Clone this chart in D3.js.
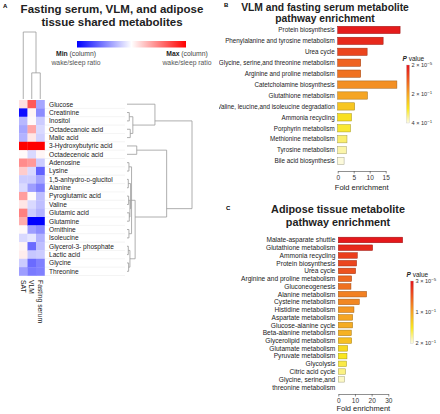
<!DOCTYPE html>
<html><head><meta charset="utf-8">
<script src="https://cdn.jsdelivr.net/npm/d3@7"></script>
<style>body{margin:0;background:#fff}svg{font-family:"Liberation Sans",Arial,Helvetica,sans-serif}</style>
</head><body><svg id="c" width="440" height="414"></svg>
<script>
// ---------- Panel A data ----------
const metabolites = ["Glucose","Creatinine","Inositol","Octadecanoic acid","Malic acid","3-Hydroxybutyric acid","Octadecenoic acid","Adenosine","Lysine","1,5-anhydro-D-glucitol","Alanine","Pyroglutamic acid","Valine","Glutamic acid","Glutamine","Ornithine","Isoleucine","Glycerol-3- phosphate","Lactic acid","Glycine","Threonine"];
const heatColumns = ["SAT","VLM","Fasting serum"];
const satValues   = [0.12,-0.95,-0.28,-0.35,-0.3,1,0.02,0.45,0.2,-0.2,-0.15,0.38,0.1,0.5,0.32,0.02,-0.15,0.04,0.07,-0.2,-0.38];
const vlmValues   = [0.65,0.04,0.02,0.35,0.1,1,-0.15,0.4,-0.15,-0.2,-0.38,0.02,-0.15,-0.2,-1,-0.38,-0.1,-0.58,-0.22,-0.58,-0.52];
const serumValues = [-0.35,-0.45,-0.2,-0.15,-0.18,1,0.04,-0.2,-0.62,-0.35,-0.5,-0.25,-0.25,-0.3,-1,-0.45,-0.3,-0.25,-0.2,-0.5,-0.5];
// dendrograms: [height, children] ; leaves are names
const rowTree = [10, [
  [4.3, ["Glucose", [0.9, [[0.35, ["Creatinine","Inositol"]], [0.5, ["Octadecanoic acid","Malic acid"]]]]]],
  [6.1, [
    [1.5, ["3-Hydroxybutyric acid","Octadecenoic acid"]],
    [1.25, [
      [0.7, [
        [0.3, ["Adenosine","Lysine"]],
        [0.55, [[0.2, ["1,5-anhydro-D-glucitol","Alanine"]], [0.45, [[0.25, ["Pyroglutamic acid","Valine"]], [0.35, ["Glutamic acid","Glutamine"]]]]]],
        [0.3, ["Ornithine","Isoleucine"]]
      ]],
      [0.45, [[0.2, ["Glycerol-3- phosphate","Lactic acid"]], [0.25, ["Glycine","Threonine"]]]]
    ]]
  ]]
]];
const colTree = [10, ["SAT", [3.9, ["VLM","Fasting serum"]]]];

// ---------- Panel B data ----------
const pathwaysB = ["Protein biosynthesis","Phenylalanine and tyrosine metabolism","Urea cycle","Glycine, serine,and threonine metabolism","Arginine and proline metabolism","Catetcholamine biosynthesis","Glutathione metabolism","Valine, leucine,and isoleucine degradation","Ammonia recycling","Porphyrin metabolism","Methionine metabolism","Tyrosine metabolism","Bile acid biosynthesis"];
const foldB = [19.5,14.2,9.2,7.2,7.2,18.5,9.3,5.3,4.3,4.0,2.9,2.7,2.0];
const pB = [0.01,0.03,0.07,0.11,0.13,0.17,0.2,0.25,0.29,0.31,0.34,0.37,0.395];
const ticksB = [0,5,10,15];

// ---------- Panel C data ----------
const pathwaysC = ["Malate-asparate shuttle","Glutathione metabolism","Ammonia recycling","Protein biosynthesis","Urea cycle","Arginine and proline metabolism","Gluconeogenesis","Alanine metabolism","Cysteine metabolism","Histidine metabolism","Aspartate metabolism","Glucose-alanine cycle","Beta-alanine metabolism","Glycerolipid metabolism","Glutamate metabolism","Pyruvate metabolism","Glycolysis","Citric acid cycle","Glycine, serine,and\nthreonine metabolism"];
const foldC = [38.6,20.6,11.4,11.0,10.4,8.0,7.6,17.0,12.6,9.4,8.6,8.6,7.8,8.0,5.6,5.2,5.0,4.4,3.8];
const pC = [0.003,0.015,0.03,0.035,0.045,0.06,0.065,0.075,0.08,0.09,0.1,0.105,0.11,0.12,0.14,0.15,0.16,0.175,0.192];
const ticksC = [0,10,20,30];

const svg = d3.select("#c");
const dendroColor = "#9a9a9a";

// ================= Panel A =================
svg.append("text").attr("x",3).attr("y",8).attr("font-size",6).attr("font-weight","bold").text("A");
const titleA = svg.append("text").attr("text-anchor","middle").attr("font-weight","bold").attr("font-size",11.5).attr("fill","#222");
titleA.append("tspan").attr("x",112).attr("y",13).text("Fasting serum, VLM, and adipose");
titleA.append("tspan").attr("x",112).attr("y",25.5).text("tissue shared metabolites");

// color legend
const heatColor = d3.scaleLinear().domain([-1,0,1]).range(["#0000ff","#ffffff","#ff0000"]);
const defs = svg.append("defs");
const hg = defs.append("linearGradient").attr("id","hg");
[-1,-0.5,0,0.5,1].forEach(v=>hg.append("stop").attr("offset",((v+1)/2*100)+"%").attr("stop-color",heatColor(v)));
const legX = d3.scaleLinear().domain([-1,1]).range([77,186]);
svg.append("rect").attr("x",legX(-1)).attr("y",41).attr("width",legX(1)-legX(-1)).attr("height",6.5).attr("fill","url(#hg)");
const legT = [[legX(-1)-1,"Min"],[legX(1)+1,"Max"]];
legT.forEach(([x,w])=>{
  const t = svg.append("text").attr("x",x).attr("y",56).attr("text-anchor","middle").attr("font-size",6.8).attr("fill","#444");
  t.append("tspan").attr("font-weight","bold").attr("fill","#222").text(w);
  t.append("tspan").text(" (column)");
  svg.append("text").attr("x",x).attr("y",64.5).attr("text-anchor","middle").attr("font-size",6.8).attr("fill","#555").text("wake/sleep ratio");
});

// heatmap
const hx = d3.scaleBand().domain(heatColumns).range([19,44.5]);
const hy = d3.scaleBand().domain(metabolites).range([100,275.5]);
const colVals = {"SAT":satValues,"VLM":vlmValues,"Fasting serum":serumValues};
svg.append("g").selectAll("line").data(metabolites).join("line")
  .attr("x1",44.5).attr("x2",125).attr("y1",d=>hy(d)+hy.bandwidth()).attr("y2",d=>hy(d)+hy.bandwidth())
  .attr("stroke","#ececec").attr("stroke-width",0.6);
heatColumns.forEach(c=>{
  svg.append("g").selectAll("rect").data(metabolites).join("rect")
    .attr("x",hx(c)).attr("y",d=>hy(d)).attr("width",hx.bandwidth()+0.3).attr("height",hy.bandwidth()+0.3)
    .attr("fill",(d,i)=>heatColor(colVals[c][i]));
});
const rowLab = svg.append("g").attr("font-size",6.6).attr("fill","#222");
metabolites.forEach(m=>{
  const t = rowLab.append("text").attr("x",49).attr("y",hy(m)+hy.bandwidth()/2).attr("dy","0.36em");
  if(m.includes("-D-")){
    const [a,b] = m.split("-D-");
    t.append("tspan").text(a+"-");
    t.append("tspan").attr("font-size",5).text("D");
    t.append("tspan").text("-"+b);
  } else t.text(m);
});
heatColumns.forEach(c=>{
  svg.append("text").attr("transform",`translate(${hx(c)+hx.bandwidth()/2},280) rotate(90)`)
    .attr("dy","0.35em").attr("font-size",6.8).attr("fill","#222").text(c);
});

function layout(node, pos, hpos, segs){
  if(typeof node === "string") return {p:pos(node), leaves:[pos(node)], h:hpos(0)};
  const [h, kids] = node;
  const ch = kids.map(k=>layout(k,pos,hpos,segs));
  const leaves = ch.flatMap(c=>c.leaves);
  const p = d3.mean(leaves);
  const hh = hpos(h);
  ch.forEach(c=>segs.push([c.h,c.p,hh,c.p]));
  segs.push([hh,d3.min(ch,c=>c.p),hh,d3.max(ch,c=>c.p)]);
  return {p, leaves, h:hh};
}
const rowSegs = [];
const rowH = d3.scaleLinear().domain([0,10]).range([127,192]);
layout(rowTree, m=>hy(m)+hy.bandwidth()/2, h=>rowH(h), rowSegs);
svg.append("g").selectAll("line").data(rowSegs).join("line")
  .attr("x1",d=>d[0]).attr("y1",d=>d[1]).attr("x2",d=>d[2]).attr("y2",d=>d[3])
  .attr("stroke",dendroColor).attr("stroke-width",0.8);
const colSegs = [];
const colH = d3.scaleLinear().domain([0,10]).range([99,32]);
function layoutCol(node){
  if(typeof node === "string"){const p=hx(node)+hx.bandwidth()/2; return {p, leaves:[p], h:colH(0)};}
  const [h,kids]=node; const ch=kids.map(layoutCol); const leaves=ch.flatMap(c=>c.leaves);
  const hh=colH(h);
  ch.forEach(c=>colSegs.push([c.p,c.h,c.p,hh]));
  colSegs.push([d3.min(ch,c=>c.p),hh,d3.max(ch,c=>c.p),hh]);
  return {p:d3.mean(leaves),leaves,h:hh};
}
layoutCol(colTree);
svg.append("g").selectAll("line").data(colSegs).join("line")
  .attr("x1",d=>d[0]).attr("y1",d=>d[1]).attr("x2",d=>d[2]).attr("y2",d=>d[3])
  .attr("stroke",dendroColor).attr("stroke-width",0.8);

// ================= bar panels =================
function pLabel(g,x,y,a,e){
  const t=g.append("text").attr("x",x).attr("y",y).attr("dy","0.35em").attr("font-size",5.6).attr("fill","#333");
  t.append("tspan").text(a+" \u00d7 10");
  t.append("tspan").attr("dy","-0.45em").attr("font-size",4.4).text("\u2212"+e);
}
function barPanel(cfg){
  const g = svg.append("g");
  g.append("text").attr("x",cfg.letter[0]).attr("y",cfg.letter[1]).attr("font-size",6).attr("font-weight","bold").text(cfg.letterText);
  const tt = g.append("text").attr("text-anchor","middle").attr("font-weight","bold").attr("font-size",cfg.titleSize).attr("fill","#222");
  cfg.title.forEach((s,i)=>tt.append("tspan").attr("x",cfg.titleX).attr("y",cfg.titleY[i]).text(s));
  const y = d3.scaleBand().domain(cfg.cats).range(cfg.yRange).paddingInner(cfg.pad).paddingOuter(cfg.pad/2);
  const x = d3.scaleLinear().domain(cfg.xDomain).range(cfg.xRange);
  const col = d3.scaleLinear().domain(cfg.pDomain).range(["#e4141b","#ee5a1f","#f5a524","#f9e61e","#fcfbe6"]);
  g.append("g").selectAll("rect").data(cfg.cats).join("rect")
    .attr("x",x(0)).attr("y",d=>y(d)).attr("width",(d,i)=>x(cfg.vals[i])-x(0)).attr("height",y.bandwidth())
    .attr("fill",(d,i)=>col(cfg.ps[i])).attr("stroke",(d,i)=>d3.color(col(cfg.ps[i])).darker(1.2)).attr("stroke-width",0.5);
  const lg = g.append("g").attr("font-size",cfg.labelSize).attr("fill","#222").attr("text-anchor","end");
  if(cfg.clip){
    defs.append("clipPath").attr("id",cfg.clip).append("rect").attr("x",219).attr("y",0).attr("width",221).attr("height",414);
    lg.attr("clip-path",`url(#${cfg.clip})`);
  }
  cfg.cats.forEach(c=>{
    const lines=c.split("\n");
    const t=lg.append("text").attr("x",x(0)-3).attr("y",y(c)+y.bandwidth()/2);
    lines.forEach((l,i)=>t.append("tspan").attr("x",x(0)-3).attr("dy",i===0?"0.36em":"1.3em").text(l));
  });
  const ax = g.append("g").attr("transform",`translate(0,${cfg.axisY})`)
    .call(d3.axisBottom(x).tickValues(cfg.ticks).tickSize(2.5).tickSizeOuter(0).tickPadding(2));
  ax.select(".domain").attr("stroke","#444").attr("stroke-width",0.6);
  ax.selectAll(".tick line").attr("stroke","#444").attr("stroke-width",0.6);
  ax.selectAll(".tick text").attr("font-size",6.5).attr("fill","#333").attr("font-family",null);
  g.append("text").attr("x",(cfg.xRange[0]+cfg.xRange[1])/2).attr("y",cfg.axisY+cfg.xTitleOff).attr("text-anchor","middle")
    .attr("font-size",7.5).attr("fill","#222").text("Fold enrichment");
  const lgY = d3.scaleLinear().domain([cfg.pDomain[0], cfg.pDomain[cfg.pDomain.length-1]]).range(cfg.legY);
  const gid = cfg.letterText+"pg";
  const gr = defs.append("linearGradient").attr("id",gid).attr("x1",0).attr("x2",0).attr("y1",0).attr("y2",1);
  cfg.pDomain.forEach(p=>gr.append("stop").attr("offset",((p-cfg.pDomain[0])/(cfg.pDomain[4]-cfg.pDomain[0])*100)+"%").attr("stop-color",col(p)));
  const pt = g.append("text").attr("x",cfg.legX-4).attr("y",cfg.legY[0]-4).attr("font-size",6.5).attr("fill","#222");
  pt.append("tspan").attr("font-style","italic").attr("font-weight","bold").text("P");
  pt.append("tspan").text(" value");
  g.append("rect").attr("x",cfg.legX).attr("y",cfg.legY[0]).attr("width",3).attr("height",cfg.legY[1]-cfg.legY[0])
    .attr("fill",`url(#${gid})`).attr("stroke","#bbb").attr("stroke-width",0.3);
  cfg.legTicks.forEach(([v,a,e])=>pLabel(g,cfg.legX+5,lgY(v),a,e));
}

barPanel({letterText:"B", letter:[224,7], title:["VLM and fasting serum metabolite","pathway enrichment"], titleX:325, titleY:[10.5,21.5],
  titleSize:10.3, cats:pathwaysB, vals:foldB, ps:pB, yRange:[24.5,166.5], pad:0.33, xDomain:[0,15], xRange:[337.7,385.7],
  axisY:171, xTitleOff:19, ticks:ticksB, labelSize:6.3, clip:"clipB",
  pDomain:[0.00002,0.1,0.2,0.3,0.4], legX:406.5, legY:[65,123], legTicks:[[0.00002,"2","5"],[0.2,"2","1"],[0.4,"4","1"]]});
barPanel({letterText:"C", letter:[226,210], title:["Adipose tissue metabolite","pathway enrichment"], titleX:338, titleY:[213,225.5],
  titleSize:10.8, cats:pathwaysC, vals:foldC, ps:pC, yRange:[236.1,383.2], pad:0.28, xDomain:[0,30], xRange:[338.3,388.3],
  axisY:394, xTitleOff:17, ticks:ticksC, labelSize:6.6,
  pDomain:[0.00003,0.05,0.1,0.15,0.2], legX:410.5, legY:[281,343.5], legTicks:[[0.00003,"3","5"],[0.1,"1","1"],[0.2,"2","1"]]});
</script></body></html>
